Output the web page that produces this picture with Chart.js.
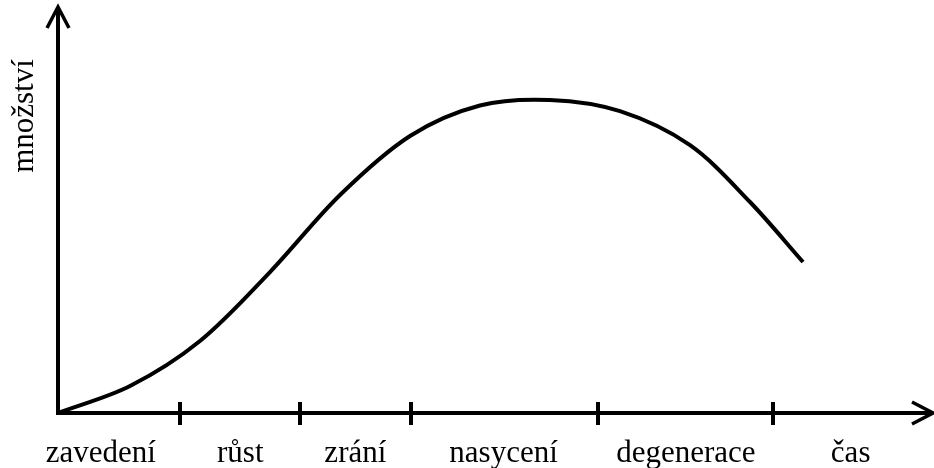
<!DOCTYPE html>
<html>
<head>
<meta charset="utf-8">
<script src="https://cdn.jsdelivr.net/npm/chart.js@4/dist/chart.umd.min.js"></script>
<style>
  html, body { margin: 0; padding: 0; background: #fff; }
  #wrap { width: 934px; height: 468px; }
</style>
</head>
<body>
<div id="wrap"><canvas id="chart"></canvas></div>
<script>
// time (0..100) and amount (0..100)
const timeValues = [0, 8.26, 16.28, 24.31, 32.34, 40.37, 48.39, 56.42, 64.45, 72.48, 79.36, 85.44];
const amountValues = [0, 6.67, 17.78, 34.81, 53.83, 68.4, 75.93, 77.28, 74.52, 66.12, 52.1, 37.28];

// phase boundaries on the time axis
const tickPositions = [14.0, 27.75, 40.5, 61.9, 82.0];
// phase names and where they sit
const phaseLabels = ['zavedení', 'růst', 'zrání', 'nasycení', 'degenerace', 'čas'];
const labelPositions = [4.9, 20.9, 34.1, 51.1, 72.0, 90.9];
const yTitle = 'množství';

const FONT = '31px "Liberation Serif", "Times New Roman", serif';

// draws the arrowed axes, phase ticks and texts
const axesPlugin = {
    id: 'arrowAxes',
    afterDraw(chart) {
        const ctx = chart.ctx;
        const x = chart.scales.x;
        const y = chart.scales.y;
        const x0 = x.getPixelForValue(0);
        const y0 = y.getPixelForValue(0);
        const yTop = chart.chartArea.top - 1;
        const xEnd = chart.width - 1;

        ctx.save();
        ctx.strokeStyle = '#000';
        ctx.lineWidth = 4;
        ctx.lineCap = 'butt';

        // axes
        ctx.beginPath();
        ctx.moveTo(x0, y0 + 2);
        ctx.lineTo(x0, yTop);
        ctx.moveTo(x0 - 2, y0);
        ctx.lineTo(xEnd, y0);
        ctx.stroke();

        // arrow heads
        ctx.lineJoin = 'miter';
        ctx.lineWidth = 3.5;
        ctx.beginPath();
        ctx.moveTo(x0 - 11, yTop + 21);
        ctx.lineTo(x0, yTop);
        ctx.lineTo(x0 + 11, yTop + 21);
        ctx.moveTo(xEnd - 21, y0 - 11);
        ctx.lineTo(xEnd, y0);
        ctx.lineTo(xEnd - 21, y0 + 11);
        ctx.stroke();

        // phase ticks
        ctx.lineWidth = 4;
        ctx.beginPath();
        tickPositions.forEach(t => {
            const px = Math.round(x.getPixelForValue(t));
            ctx.moveTo(px, y0 - 11);
            ctx.lineTo(px, y0 + 12);
        });
        ctx.stroke();

        // labels
        ctx.fillStyle = '#000';
        ctx.font = FONT;
        ctx.textAlign = 'center';
        ctx.textBaseline = 'alphabetic';
        phaseLabels.forEach((name, i) => {
            ctx.fillText(name, x.getPixelForValue(labelPositions[i]), y0 + 49);
        });

        ctx.translate(33, 116);
        ctx.rotate(-Math.PI / 2);
        ctx.fillText(yTitle, 0, 0);
        ctx.restore();
    }
};

new Chart(document.getElementById('chart'), {
    type: 'line',
    data: {
        datasets: [{
            data: timeValues.map((t, i) => ({ x: t, y: amountValues[i] })),
            borderColor: '#000',
            borderWidth: 4,
            pointRadius: 0,
            tension: 0.33,
            borderCapStyle: 'butt',
            fill: false,
            clip: false
        }]
    },
    options: {
        responsive: true,
        maintainAspectRatio: false,
        animation: false,
        layout: { padding: { left: 58, right: 4, top: 8, bottom: 55 } },
        plugins: {
            legend: { display: false },
            tooltip: { enabled: false }
        },
        scales: {
            x: { type: 'linear', min: 0, max: 100, display: false },
            y: { type: 'linear', min: 0, max: 100, display: false }
        }
    },
    plugins: [axesPlugin]
});
</script>
</body>
</html>
